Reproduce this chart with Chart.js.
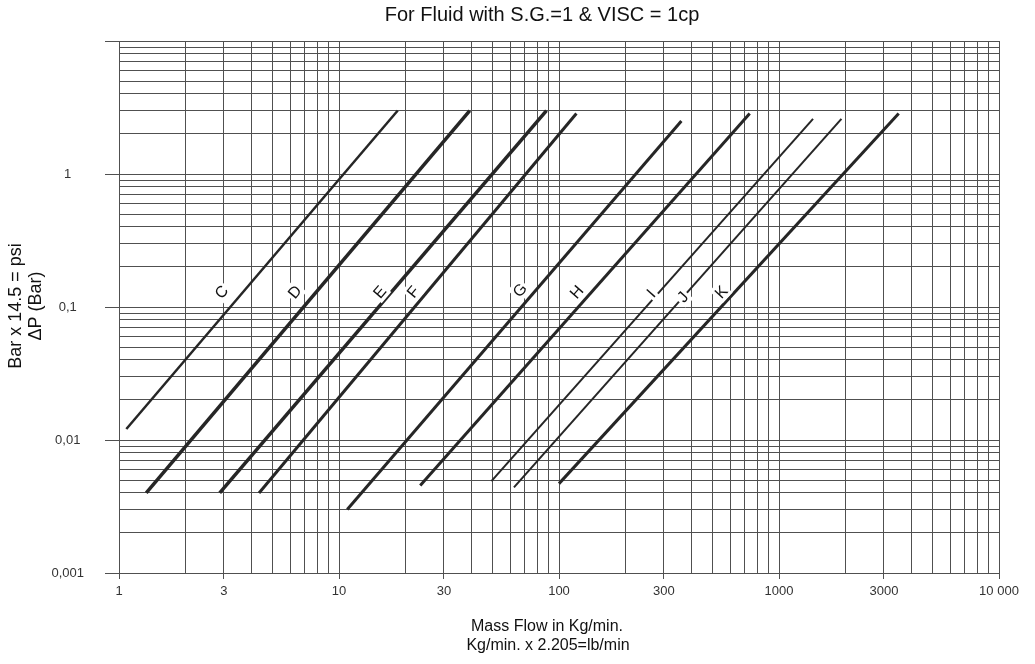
<!DOCTYPE html>
<html>
<head>
<meta charset="utf-8">
<script src="https://cdn.jsdelivr.net/npm/chart.js@4/dist/chart.umd.min.js"></script>
<style>
html, body { margin: 0; padding: 0; background: #fff; }
#wrap { width: 1035px; height: 664px; }
</style>
</head>
<body>
<div id="wrap"><canvas id="graficoCaida" width="1035" height="664"></canvas></div>
<script>
// curvas de caida de presion (log-log)
const curveNames = ['C', 'D', 'E', 'F', 'G', 'H', 'I', 'J', 'K'];
const flowStart = [1.08, 1.33, 2.87, 4.33, 10.9, 23.4, 49.3, 62.4, 100];
const flowEnd = [18.5, 39.3, 87.7, 120, 360, 736, 1428, 1922, 3500];
const dpStart = [0.0121, 0.0040, 0.0040, 0.0040, 0.0030, 0.00455, 0.0049, 0.0044, 0.0047];
const dpEnd = [3.0, 3.0, 3.0, 2.85, 2.5, 2.85, 2.6, 2.6, 2.85];
const labelFlow = [2.92, 6.29, 15.3, 21.7, 66.3, 120, 262, 365, 545];
const labelDp = [0.13, 0.13, 0.13, 0.13, 0.134, 0.13, 0.127, 0.119, 0.13];

const xTickLabels = [1, 3, 10, 30, 100, 300, 1000, 3000, 10000];
const yTickLabels = [0.001, 0.01, 0.1, 1];
const gridSteps = [1, 2, 3, 4, 5, 6, 7, 8, 9];

const lineWidths = [2.5, 3.5, 3.5, 3, 3, 3, 2, 2, 3];
const gridColor = '#505050';
const curveColor = '#262626';
const fuente = '"Liberation Sans", Arial, sans-serif';

function logGrid(min, max) {
    const vals = [];
    for (let d = min; d < max * 0.999; d *= 10) {
        gridSteps.forEach(s => vals.push(+(s * d).toPrecision(3)));
    }
    vals.push(max);
    return vals;
}

function inList(v, list) {
    return list.some(l => Math.abs(Math.log10(v) - Math.log10(l)) < 1e-6);
}

const datasets = curveNames.map((name, i) => ({
    label: name,
    data: [{ x: flowStart[i], y: dpStart[i] }, { x: flowEnd[i], y: dpEnd[i] }],
    showLine: true,
    borderColor: curveColor,
    borderWidth: lineWidths[i],
    pointRadius: 0,
    borderCapStyle: 'butt'
}));

const textos = {
    id: 'textos',
    afterDatasetsDraw(chart) {
        const { ctx, scales: { x, y } } = chart;
        ctx.save();
        ctx.font = '16px ' + fuente;
        curveNames.forEach((name, i) => {
            const px = x.getPixelForValue(labelFlow[i]);
            const py = y.getPixelForValue(labelDp[i]);
            const ang = Math.atan2(
                y.getPixelForValue(dpEnd[i]) - y.getPixelForValue(dpStart[i]),
                x.getPixelForValue(flowEnd[i]) - x.getPixelForValue(flowStart[i]));
            ctx.save();
            ctx.translate(px, py);
            ctx.rotate(ang);
            const w = ctx.measureText(name).width;
            ctx.fillStyle = '#fff';
            ctx.fillRect(-w / 2 - 2, -9, w + 4, 18);
            ctx.fillStyle = '#111';
            ctx.textAlign = 'center';
            ctx.textBaseline = 'middle';
            ctx.fillText(name, 0, 1);
            ctx.restore();
        });
        ctx.restore();
    },
    afterDraw(chart) {
        const { ctx } = chart;
        ctx.save();
        ctx.fillStyle = '#111';
        ctx.textAlign = 'center';
        ctx.textBaseline = 'middle';
        ctx.font = '20px ' + fuente;
        ctx.fillText('For Fluid with S.G.=1 & VISC = 1cp', 542, 15);
        ctx.font = '16px ' + fuente;
        ctx.fillText('Mass Flow in Kg/min.', 547, 627);
        ctx.fillText('Kg/min. x 2.205=lb/min', 548, 646);
        ctx.translate(0, 306);
        ctx.rotate(-Math.PI / 2);
        ctx.font = '18px ' + fuente;
        ctx.fillText('Bar x 14.5 = psi', 0, 16);
        ctx.fillText('\u0394P (Bar)', 0, 36);
        ctx.restore();
    }
};

new Chart(document.getElementById('graficoCaida').getContext('2d'), {
    type: 'scatter',
    data: { datasets },
    options: {
        responsive: false,
        animation: false,
        layout: { padding: { top: 41, right: 36, left: 0, bottom: 0 } },
        plugins: {
            legend: { display: false },
            tooltip: { enabled: false }
        },
        scales: {
            x: {
                type: 'logarithmic',
                min: 1,
                max: 10000,
                afterBuildTicks: scale => { scale.ticks = logGrid(1, 10000).map(v => ({ value: v })); },
                afterFit: scale => { scale.height = 91; },
                border: { color: gridColor },
                grid: {
                    color: gridColor,
                    lineWidth: 1,
                    tickLength: 6,
                    tickColor: c => (c.tick && inList(c.tick.value, xTickLabels)) ? gridColor : 'rgba(0,0,0,0)'
                },
                ticks: {
                    autoSkip: false,
                    maxRotation: 0,
                    padding: 5,
                    color: '#333',
                    font: { family: fuente, size: 13 },
                    callback: v => inList(v, xTickLabels) ? (v === 10000 ? '10 000' : String(v)) : ''
                }
            },
            y: {
                type: 'logarithmic',
                min: 0.001,
                max: 10,
                afterBuildTicks: scale => { scale.ticks = logGrid(0.001, 10).map(v => ({ value: v })); },
                afterFit: scale => { scale.width = 119; },
                border: { color: gridColor },
                grid: {
                    color: gridColor,
                    lineWidth: 1,
                    tickLength: 14,
                    tickColor: c => (c.tick && (inList(c.tick.value, yTickLabels) || c.tick.value === 10)) ? gridColor : 'rgba(0,0,0,0)'
                },
                ticks: {
                    autoSkip: false,
                    padding: 21,
                    crossAlign: 'center',
                    color: '#333',
                    font: { family: fuente, size: 13 },
                    callback: v => inList(v, yTickLabels) ? String(v).replace('.', ',') : ''
                }
            }
        }
    },
    plugins: [textos]
});
</script>
</body>
</html>
